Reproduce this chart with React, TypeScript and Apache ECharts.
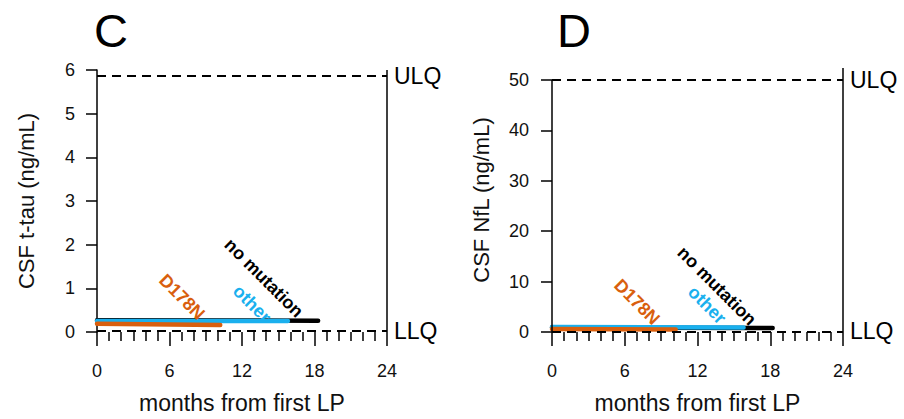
import React, { useEffect, useRef } from "react";
import * as echarts from "echarts";

// ---- tick labels ----
const monthTicks = [0, 6, 12, 18, 24];
const tauTicks = [0, 1, 2, 3, 4, 5, 6];
const nflTicks = [0, 10, 20, 30, 40, 50];

// ---- panel C: CSF t-tau (ng/mL) ----
const tauMonthsD178N = [0, 10.2];
const tauValuesD178N = [0.19, 0.16];
const tauMonthsOther = [0, 15.8];
const tauValuesOther = [0.25, 0.25];
const tauMonthsNoMut = [0, 18.3];
const tauValuesNoMut = [0.27, 0.26];
const tauULQ = 5.86;
const tauLLQ = 0.03;

// ---- panel D: CSF NfL (ng/mL) ----
const nflMonthsD178N = [0, 10.2];
const nflValuesD178N = [0.6, 0.5];
const nflMonthsOther = [0, 15.8];
const nflValuesOther = [1.0, 0.9];
const nflMonthsNoMut = [0, 18.2];
const nflValuesNoMut = [0.9, 0.8];
const nflULQ = 50;
const nflLLQ = 0.1;

const groupNames = ["D178N", "other", "no mutation"];
const groupColors = ["#D95F0E", "#1AB0EE", "#000000"];

const FONT = "Liberation Sans, Arial, Helvetica, sans-serif";

const zip = (xs: number[], ys: number[]) => xs.map((x, i) => [x, ys[i]]);

function limitLine(value: number, text: string) {
  return {
    yAxis: value,
    lineStyle: { type: [9, 6], width: 2, color: "#000" },
    label: {
      show: true,
      position: "end",
      formatter: text,
      fontSize: 23,
      fontFamily: FONT,
      color: "#000",
      distance: 7,
    },
  };
}

function vline(x: number, y0: number, y1: number) {
  return [
    {
      coord: [x, y0],
      lineStyle: { type: "solid", width: 1.5, color: "#000" },
      label: { show: false },
    },
    { coord: [x, y1] },
  ];
}

export default function App() {
  const ref = useRef<HTMLDivElement>(null);

  useEffect(() => {
    if (!ref.current) return;
    const chart = echarts.init(ref.current, null, { renderer: "svg" });

    const nflMax = 52.36;

    const xAxisBase = (gridIndex: number) => ({
      type: "value",
      gridIndex,
      min: 0,
      max: 24,
      interval: 6,
      axisLine: { show: false },
      axisTick: { show: true, length: 14, lineStyle: { color: "#000", width: 1.5 } },
      minorTick: { show: true, splitNumber: 6, length: 9, lineStyle: { color: "#000", width: 1.5 } },
      splitLine: { show: false },
      minorSplitLine: { show: false },
      axisLabel: {
        fontSize: 18,
        fontFamily: FONT,
        color: "#111",
        margin: 30,
        customValues: monthTicks,
      },
      name: "months from first LP",
      nameLocation: "middle",
      nameGap: 59,
      nameTextStyle: { fontSize: 23, fontFamily: FONT, color: "#111" },
    });

    const lineSeries = (
      name: string,
      color: string,
      data: number[][],
      axisIndex: number,
      z: number,
      extra: any = {}
    ) => ({
      type: "line",
      name,
      xAxisIndex: axisIndex,
      yAxisIndex: axisIndex,
      data,
      showSymbol: false,
      symbol: "none",
      z,
      lineStyle: { color, width: 4.5, cap: "round" },
      ...extra,
    });

    const markStyle = { symbol: ["none", "none"], silent: true, animation: false };

    const yName = { fontSize: 22, fontFamily: FONT, color: "#111" };

    const option: any = {
      animation: false,
      backgroundColor: "#fff",
      grid: [
        { left: 97, top: 70, width: 290, height: 264, containLabel: false },
        { left: 552, top: 68, width: 291, height: 266, containLabel: false },
      ],
      xAxis: [xAxisBase(0), xAxisBase(1)],
      yAxis: [
        {
          type: "value",
          gridIndex: 0,
          min: 0,
          max: 6,
          interval: 1,
          axisLine: { show: true, lineStyle: { color: "#000", width: 1.5 } },
          axisTick: { show: true, length: 11, lineStyle: { color: "#000", width: 1.5 } },
          splitLine: { show: false },
          axisLabel: {
            fontSize: 18,
            fontFamily: FONT,
            color: "#111",
            margin: 22,
            customValues: tauTicks,
          },
          name: "CSF t-tau (ng/mL)",
          nameLocation: "middle",
          nameGap: 60,
          nameTextStyle: yName,
        },
        {
          type: "value",
          gridIndex: 1,
          min: 0,
          max: nflMax,
          axisLine: { show: false },
          axisTick: {
            show: true,
            length: 11,
            customValues: nflTicks,
            lineStyle: { color: "#000", width: 1.5 },
          },
          splitLine: { show: false },
          axisLabel: {
            fontSize: 18,
            fontFamily: FONT,
            color: "#111",
            margin: 23,
            customValues: nflTicks,
          },
          name: "CSF NfL (ng/mL)",
          nameLocation: "middle",
          nameGap: 60,
          nameTextStyle: yName,
        },
      ],
      series: [
        // panel C
        lineSeries(groupNames[2], groupColors[2], zip(tauMonthsNoMut, tauValuesNoMut), 0, 2, {
          markLine: {
            ...markStyle,
            data: [limitLine(tauULQ, "ULQ"), limitLine(tauLLQ, "LLQ"), vline(24, 0, 6)],
          },
        }),
        lineSeries(groupNames[1], groupColors[1], zip(tauMonthsOther, tauValuesOther), 0, 3),
        lineSeries(groupNames[0], groupColors[0], zip(tauMonthsD178N, tauValuesD178N), 0, 4),
        // panel D
        lineSeries(groupNames[2], groupColors[2], zip(nflMonthsNoMut, nflValuesNoMut), 1, 2, {
          markLine: {
            ...markStyle,
            data: [
              limitLine(nflULQ, "ULQ"),
              limitLine(nflLLQ, "LLQ"),
              vline(0, 0, 50),
              vline(24, 0, nflMax),
            ],
          },
        }),
        lineSeries(groupNames[1], groupColors[1], zip(nflMonthsOther, nflValuesOther), 1, 3),
        lineSeries(groupNames[0], groupColors[0], zip(nflMonthsD178N, nflValuesD178N), 1, 4),
      ],
      graphic: [
        { type: "text", left: 94, top: 7, style: { text: "C", fontSize: 47, fontFamily: FONT, fill: "#000" } },
        { type: "text", left: 557, top: 7, style: { text: "D", fontSize: 47, fontFamily: FONT, fill: "#000" } },
        ...[
          { t: groupNames[0], c: groupColors[0], x: 182, y: 297 },
          { t: groupNames[1], c: groupColors[1], x: 252, y: 304 },
          { t: groupNames[2], c: groupColors[2], x: 264, y: 278 },
          { t: groupNames[0], c: groupColors[0], x: 637, y: 302 },
          { t: groupNames[1], c: groupColors[1], x: 707, y: 305 },
          { t: groupNames[2], c: groupColors[2], x: 717, y: 286 },
        ].map((l) => ({
          type: "text",
          x: l.x,
          y: l.y,
          rotation: -Math.PI / 4,
          z: 10,
          style: {
            text: l.t,
            fill: l.c,
            fontSize: 18,
            fontWeight: "bold",
            fontFamily: FONT,
            align: "center",
            verticalAlign: "middle",
          },
        })),
      ],
    };

    chart.setOption(option);
    return () => chart.dispose();
  }, []);

  return (
    <div
      ref={ref}
      style={{ position: "fixed", left: 0, top: 0, width: 904, height: 419, background: "#fff" }}
    />
  );
}
